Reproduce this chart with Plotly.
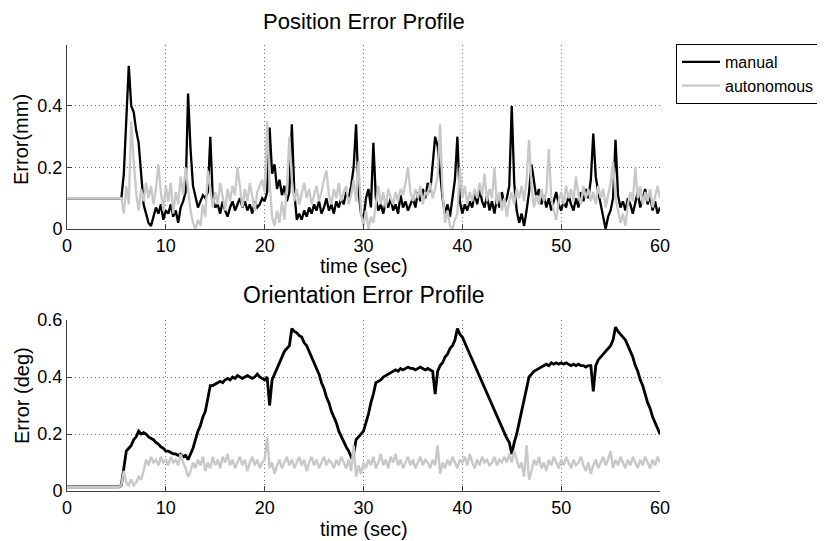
import plotly.graph_objects as go

# time grid of the recording, seconds (0 .. 60 at 0.25 s)
time_s = [round(0.25 * i, 2) for i in range(241)]

# position error, mm
pos_manual = [
    0.10, 0.10, 0.10, 0.10, 0.10, 0.10, 0.10, 0.10, 0.10, 0.10, 0.10, 0.10, 0.10, 0.10, 0.10, 0.10, 0.10, 0.10, 0.10, 0.10,
    0.10, 0.10, 0.10, 0.18, 0.36, 0.53, 0.40, 0.38, 0.32, 0.28, 0.18, 0.08, 0.05, 0.02, 0.01, 0.04, 0.07, 0.05, 0.08, 0.03,
    0.06, 0.05, 0.08, 0.04, 0.06, 0.02, 0.07, 0.09, 0.12, 0.44, 0.26, 0.14, 0.10, 0.07, 0.09, 0.11, 0.10, 0.12, 0.30, 0.10,
    0.07, 0.08, 0.05, 0.09, 0.06, 0.04, 0.07, 0.09, 0.06, 0.08, 0.10, 0.07, 0.09, 0.06, 0.08, 0.05, 0.09, 0.07, 0.08, 0.10,
    0.09, 0.12, 0.33, 0.18, 0.21, 0.13, 0.16, 0.11, 0.14, 0.09, 0.12, 0.34, 0.12, 0.03, 0.05, 0.03, 0.06, 0.04, 0.07, 0.05,
    0.08, 0.06, 0.09, 0.05, 0.07, 0.10, 0.06, 0.08, 0.05, 0.09, 0.07, 0.10, 0.08, 0.12, 0.10, 0.14, 0.20, 0.34, 0.12, 0.05,
    0.03, 0.10, 0.13, 0.07, 0.28, 0.10, 0.06, 0.08, 0.05, 0.09, 0.07, 0.10, 0.06, 0.08, 0.05, 0.11, 0.07, 0.09, 0.06, 0.08,
    0.10, 0.07, 0.12, 0.09, 0.13, 0.10, 0.15, 0.12, 0.22, 0.30, 0.27, 0.18, 0.10, 0.05, 0.08, 0.04, 0.10, 0.16, 0.30, 0.09,
    0.05, 0.08, 0.06, 0.09, 0.07, 0.12, 0.08, 0.13, 0.09, 0.07, 0.11, 0.06, 0.09, 0.05, 0.10, 0.07, 0.12, 0.08, 0.10, 0.14,
    0.40, 0.15, 0.06, 0.02, 0.05, 0.01, 0.06, 0.12, 0.21, 0.16, 0.10, 0.13, 0.08, 0.11, 0.07, 0.10, 0.06, 0.09, 0.12, 0.08,
    0.06, 0.09, 0.07, 0.11, 0.08, 0.06, 0.10, 0.07, 0.12, 0.09, 0.13, 0.10, 0.16, 0.31, 0.17, 0.12, 0.08, 0.03, 0.00, 0.04,
    0.06, 0.10, 0.29, 0.11, 0.07, 0.09, 0.06, 0.10, 0.08, 0.05, 0.09, 0.12, 0.07, 0.10, 0.13, 0.08, 0.11, 0.06, 0.09, 0.05,
    0.07,
]
pos_auto = [
    0.10, 0.10, 0.10, 0.10, 0.10, 0.10, 0.10, 0.10, 0.10, 0.10, 0.10, 0.10, 0.10, 0.10, 0.10, 0.10, 0.10, 0.10, 0.10, 0.10,
    0.10, 0.10, 0.10, 0.05, 0.14, 0.08, 0.35, 0.22, 0.12, 0.06, 0.13, 0.09, 0.15, 0.10, 0.14, 0.08, 0.13, 0.21, 0.12, 0.06,
    0.14, 0.09, 0.15, 0.05, 0.12, 0.08, 0.17, 0.11, 0.20, 0.13, 0.06, 0.02, 0.00, 0.03, 0.01, 0.08, 0.04, 0.19, 0.12, 0.07,
    0.12, 0.08, 0.15, 0.10, 0.06, 0.13, 0.09, 0.14, 0.11, 0.20, 0.13, 0.07, 0.13, 0.09, 0.15, 0.11, 0.06, 0.12, 0.14, 0.16,
    0.12, 0.35, 0.15, 0.04, 0.01, 0.06, 0.02, 0.09, 0.03, 0.14, 0.30, 0.16, 0.09, 0.13, 0.08, 0.12, 0.15, 0.10, 0.13, 0.08,
    0.11, 0.14, 0.09, 0.12, 0.16, 0.19, 0.11, 0.08, 0.13, 0.10, 0.15, 0.09, 0.12, 0.14, 0.08, 0.11, 0.16, 0.09, 0.22, 0.05,
    0.01, 0.06, 0.00, 0.04, 0.02, 0.09, 0.14, 0.08, 0.12, 0.07, 0.13, 0.10, 0.08, 0.12, 0.09, 0.13, 0.11, 0.15, 0.20, 0.12,
    0.09, 0.13, 0.10, 0.14, 0.08, 0.12, 0.11, 0.15, 0.10, 0.13, 0.17, 0.34, 0.12, 0.02, 0.06, 0.01, 0.00, 0.03, 0.05, 0.20,
    0.10, 0.14, 0.08, 0.12, 0.09, 0.13, 0.10, 0.15, 0.11, 0.18, 0.09, 0.13, 0.10, 0.20, 0.08, 0.12, 0.06, 0.10, 0.04, 0.09,
    0.12, 0.08, 0.13, 0.10, 0.14, 0.09, 0.16, 0.29, 0.14, 0.07, 0.11, 0.08, 0.13, 0.09, 0.12, 0.26, 0.10, 0.06, 0.03, 0.09,
    0.12, 0.08, 0.14, 0.10, 0.13, 0.09, 0.17, 0.11, 0.08, 0.14, 0.10, 0.13, 0.09, 0.12, 0.08, 0.14, 0.10, 0.13, 0.07, 0.11,
    0.15, 0.22, 0.10, 0.06, 0.02, 0.05, 0.01, 0.08, 0.12, 0.09, 0.20, 0.10, 0.14, 0.08, 0.12, 0.09, 0.13, 0.07, 0.11, 0.14,
    0.10,
]

# orientation error, deg
ori_manual = [
    0.015, 0.015, 0.015, 0.015, 0.015, 0.015, 0.015, 0.015, 0.015, 0.015, 0.015, 0.015, 0.015, 0.015, 0.015, 0.015, 0.015, 0.015, 0.015, 0.015,
    0.015, 0.015, 0.02, 0.08, 0.14, 0.15, 0.16, 0.18, 0.19, 0.21, 0.20, 0.205, 0.20, 0.19, 0.185, 0.18, 0.17, 0.165, 0.155, 0.15,
    0.14, 0.14, 0.135, 0.13, 0.13, 0.125, 0.13, 0.12, 0.125, 0.11, 0.13, 0.15, 0.18, 0.21, 0.23, 0.26, 0.28, 0.32, 0.37, 0.37,
    0.375, 0.38, 0.385, 0.38, 0.39, 0.395, 0.39, 0.40, 0.395, 0.405, 0.40, 0.395, 0.40, 0.405, 0.40, 0.395, 0.40, 0.41, 0.40, 0.395,
    0.39, 0.40, 0.30, 0.39, 0.41, 0.43, 0.45, 0.47, 0.49, 0.50, 0.51, 0.57, 0.56, 0.555, 0.545, 0.54, 0.52, 0.51, 0.49, 0.47,
    0.45, 0.43, 0.41, 0.38, 0.36, 0.33, 0.31, 0.28, 0.26, 0.24, 0.21, 0.19, 0.17, 0.155, 0.14, 0.12, 0.13, 0.18, 0.19, 0.20,
    0.21, 0.24, 0.27, 0.31, 0.34, 0.38, 0.385, 0.39, 0.40, 0.405, 0.41, 0.415, 0.42, 0.425, 0.42, 0.43, 0.425, 0.43, 0.435, 0.43,
    0.43, 0.425, 0.43, 0.435, 0.43, 0.425, 0.43, 0.425, 0.42, 0.34, 0.42, 0.44, 0.45, 0.47, 0.48, 0.50, 0.51, 0.53, 0.57, 0.55,
    0.54, 0.52, 0.50, 0.48, 0.46, 0.44, 0.42, 0.40, 0.38, 0.36, 0.34, 0.32, 0.30, 0.28, 0.26, 0.24, 0.22, 0.20, 0.185, 0.17,
    0.13, 0.17, 0.20, 0.24, 0.28, 0.32, 0.37, 0.40, 0.41, 0.42, 0.425, 0.43, 0.435, 0.44, 0.445, 0.44, 0.45, 0.445, 0.45, 0.445,
    0.45, 0.445, 0.45, 0.445, 0.44, 0.445, 0.44, 0.445, 0.44, 0.44, 0.435, 0.44, 0.44, 0.35, 0.44, 0.46, 0.47, 0.48, 0.49, 0.50,
    0.51, 0.53, 0.575, 0.56, 0.55, 0.54, 0.53, 0.51, 0.49, 0.47, 0.44, 0.42, 0.39, 0.37, 0.34, 0.31, 0.29, 0.26, 0.24, 0.22,
    0.20,
]
ori_auto = [
    0.015, 0.015, 0.015, 0.015, 0.015, 0.015, 0.015, 0.015, 0.015, 0.015, 0.015, 0.015, 0.015, 0.015, 0.015, 0.015, 0.015, 0.015, 0.015, 0.015,
    0.015, 0.015, 0.02, 0.07, 0.03, 0.02, 0.04, 0.02, 0.03, 0.05, 0.04, 0.07, 0.11, 0.09, 0.12, 0.10, 0.11, 0.09, 0.12, 0.10,
    0.11, 0.09, 0.12, 0.10, 0.11, 0.09, 0.13, 0.10, 0.08, 0.05, 0.07, 0.10, 0.08, 0.11, 0.09, 0.12, 0.07, 0.10, 0.08, 0.12,
    0.09, 0.11, 0.08, 0.12, 0.10, 0.13, 0.09, 0.11, 0.08, 0.10, 0.12, 0.09, 0.11, 0.07, 0.10, 0.12, 0.09, 0.11, 0.08, 0.10,
    0.11, 0.19, 0.08, 0.10, 0.06, 0.09, 0.11, 0.08, 0.10, 0.12, 0.09, 0.11, 0.08, 0.10, 0.12, 0.09, 0.11, 0.07, 0.10, 0.12,
    0.09, 0.11, 0.08, 0.10, 0.12, 0.09, 0.11, 0.10, 0.08, 0.11, 0.09, 0.12, 0.10, 0.08, 0.11, 0.07, 0.16, 0.05, 0.09, 0.06,
    0.10, 0.08, 0.11, 0.09, 0.12, 0.08, 0.10, 0.13, 0.09, 0.11, 0.08, 0.12, 0.10, 0.13, 0.09, 0.11, 0.08, 0.10, 0.12, 0.09,
    0.11, 0.08, 0.10, 0.12, 0.09, 0.11, 0.10, 0.08, 0.11, 0.09, 0.16, 0.06, 0.10, 0.08, 0.11, 0.09, 0.12, 0.10, 0.08, 0.11,
    0.10, 0.12, 0.09, 0.13, 0.10, 0.08, 0.11, 0.09, 0.12, 0.10, 0.11, 0.09, 0.10, 0.12, 0.09, 0.11, 0.10, 0.12, 0.10, 0.13,
    0.10, 0.14, 0.11, 0.08, 0.10, 0.05, 0.16, 0.04, 0.07, 0.11, 0.09, 0.12, 0.08, 0.10, 0.07, 0.11, 0.09, 0.12, 0.10, 0.08,
    0.11, 0.09, 0.12, 0.10, 0.08, 0.11, 0.09, 0.10, 0.12, 0.09, 0.07, 0.10, 0.06, 0.09, 0.11, 0.08, 0.10, 0.12, 0.09, 0.11,
    0.14, 0.08, 0.11, 0.09, 0.12, 0.10, 0.08, 0.11, 0.09, 0.12, 0.10, 0.08, 0.11, 0.09, 0.12, 0.10, 0.08, 0.11, 0.09, 0.12,
    0.10,
]

x_ticks = [0, 10, 20, 30, 40, 50, 60]
pos_ticks = [0, 0.2, 0.4]
ori_ticks = [0, 0.2, 0.4, 0.6]

# the page puts the figure 8 px in from the corner, so the figure is 8 px smaller
OFF = 8
W, H = 825 - OFF, 541 - OFF
FONT = "Liberation Sans, Arial, Helvetica, sans-serif"
MANUAL = "#000000"
AUTO = "#c8c8c8"


def px_x(v):
    return (v - OFF) / W


def px_y(v):
    return (H - (v - OFF)) / H


fig = go.Figure()

# manual first, autonomous drawn on top (matlab plot order)
fig.add_trace(go.Scatter(x=time_s, y=pos_manual, mode="lines", name="manual",
                         line=dict(color=MANUAL, width=2.3), xaxis="x", yaxis="y"))
fig.add_trace(go.Scatter(x=time_s, y=pos_auto, mode="lines", name="autonomous",
                         line=dict(color=AUTO, width=2.3), xaxis="x", yaxis="y"))
fig.add_trace(go.Scatter(x=time_s, y=ori_manual, mode="lines", name="manual",
                         line=dict(color=MANUAL, width=2.8), xaxis="x2", yaxis="y2", showlegend=False))
fig.add_trace(go.Scatter(x=time_s, y=ori_auto, mode="lines", name="autonomous",
                         line=dict(color=AUTO, width=2.4), xaxis="x2", yaxis="y2", showlegend=False))

axis_common = dict(
    showgrid=True, gridcolor="#707070", griddash="1px,3px", gridwidth=1,
    showline=True, linecolor="#404040", linewidth=1, mirror=False,
    ticks="inside", ticklen=5, tickcolor="#404040", automargin=False,
    zeroline=False, tickfont=dict(family=FONT, size=18, color="#000"),
)

x_dom = [px_x(67), px_x(660)]
fig.update_layout(
    width=W, height=H,
    paper_bgcolor="white", plot_bgcolor="white",
    margin=dict(l=0, r=0, t=0, b=0, autoexpand=False),
    font=dict(family=FONT, color="#000"),
    xaxis=dict(domain=x_dom, range=[0, 60], tickvals=x_ticks, anchor="y", **axis_common),
    yaxis=dict(domain=[px_y(229), px_y(45)], range=[0, 0.598], tickvals=pos_ticks,
               ticktext=["0", "0.2", "0.4"], anchor="x", **axis_common),
    xaxis2=dict(domain=x_dom, range=[0, 60], tickvals=x_ticks, anchor="y2", **axis_common),
    yaxis2=dict(domain=[px_y(491), px_y(320)], range=[0, 0.6], tickvals=ori_ticks,
                ticktext=["0", "0.2", "0.4", "0.6"], anchor="x2", **axis_common),
    legend=dict(
        x=px_x(676), y=px_y(44), xanchor="left", yanchor="top",
        bgcolor="white", bordercolor="#000", borderwidth=1,
        font=dict(family=FONT, size=16, color="#000"),
        tracegroupgap=0, itemwidth=38,
    ),
    showlegend=True,
)

cx = (x_dom[0] + x_dom[1]) / 2
texts = [
    ("Position Error Profile", cx, px_y(21), 22, 0),
    ("time (sec)", cx, px_y(266), 20, 0),
    ("Orientation Error Profile", cx, px_y(295), 23, 0),
    ("time (sec)", cx, px_y(529), 20, 0),
    ("Error(mm)", px_x(21), px_y(140), 20, -90),
    ("Error (deg)", px_x(22), px_y(396), 20, -90),
]
for txt, x, y, size, ang in texts:
    fig.add_annotation(text=txt, x=x, y=y, xref="paper", yref="paper",
                       showarrow=False, xanchor="center", yanchor="middle",
                       textangle=ang, font=dict(family=FONT, size=size, color="#000"))

fig.write_html("out.html")
